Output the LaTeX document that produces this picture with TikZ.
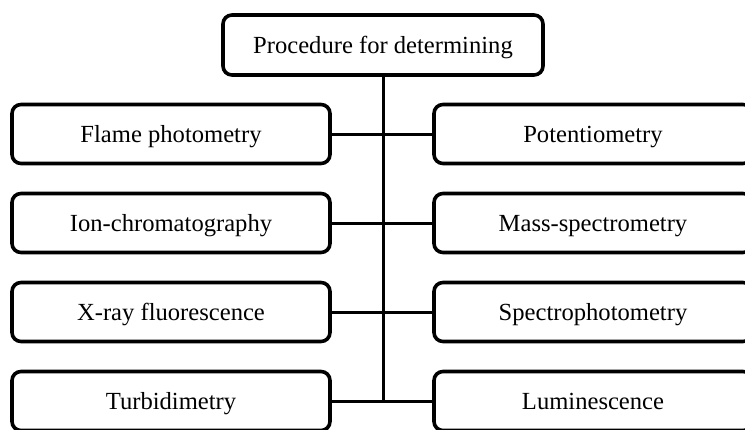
\documentclass[tikz,border=0pt]{standalone}
\usepackage{fontspec}
\setmainfont{Liberation Serif}
\begin{document}
\begin{tikzpicture}[x=1pt,y=-1pt,
  box/.style={draw=black,line width=3.6pt,rounded corners=9pt,minimum height=59pt,
    inner sep=0pt,text height=16.5pt,text depth=0.5pt,
    font=\fontsize{24.6}{28}\selectfont,fill=white},
  lbox/.style={box,minimum width=318pt},
  rbox/.style={box,minimum width=318pt},
  topbox/.style={box,minimum width=320pt,minimum height=60pt},
  conn/.style={draw=black,line width=3pt}]
\useasboundingbox[fill=white] (0,0) rectangle (745,429);
\node[topbox] (top) at (383,45) {Procedure for determining};
\node[lbox] (l1) at (171,134) {Flame photometry};
\node[lbox] (l2) at (171,223) {Ion-chromatography};
\node[lbox] (l3) at (171,312) {X-ray fluorescence};
\node[lbox] (l4) at (171,401) {Turbidimetry};
\node[rbox] (r1) at (593,134) {Potentiometry};
\node[rbox] (r2) at (593,223) {Mass-spectrometry};
\node[rbox] (r3) at (593,312) {Spectrophotometry};
\node[rbox] (r4) at (593,401) {Luminescence};
\coordinate (j4) at (383,401);
\draw[conn] (top.south) -- (j4);
\foreach \i in {1,2,3,4}{
  \draw[conn] (l\i.east) -- (r\i.west);
}
\end{tikzpicture}
\end{document}
